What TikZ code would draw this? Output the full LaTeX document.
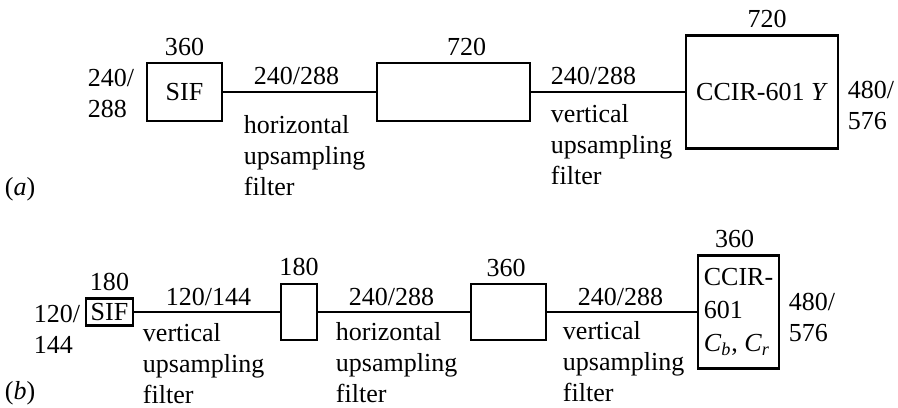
\documentclass[tikz,border=0pt]{standalone}
\usepackage{fontspec}
\setmainfont{Liberation Serif}
\usepackage{tikz}
\usetikzlibrary{positioning}
\tikzset{blk/.style={draw, line width=1.4pt, inner sep=0pt}}
\tikzset{lbl/.style={inner sep=0pt}}

\begin{document}
\begin{tikzpicture}[font=\fontsize{14.8}{17.9}\selectfont, line width=1.1pt]
    \path[use as bounding box] (0, 0) rectangle (17.96, 8.14);

    % (a) luminance: SIF -> CCIR-601 Y
    \node[blk, minimum width=1.50cm, minimum height=1.16cm] at (3.69, 6.30) (SIFa) {SIF};
    \node[blk, minimum width=3.06cm, minimum height=1.16cm] at (9.07, 6.30) (Ha) {};
    \node[blk, minimum width=3.04cm, minimum height=2.26cm] at (15.24, 6.30) (Ya) {CCIR-601 \textit{Y}};

    \node[lbl, above=0.11cm of SIFa] (wSIFa) {360};
    \node[lbl, above=0.11cm of Ha, xshift=0.26cm] (wHa) {720};
    \node[lbl, above=0.12cm of Ya, xshift=0.1cm] (wYa) {720};

    \draw (SIFa) -- (Ha);
    \draw (Ha) -- (Ya);

    \node[lbl, anchor=north west, align=left] at (1.74, 6.78) (inA) {240/\\288};
    \node[lbl, anchor=north west, align=left] at (16.94, 6.54) (outA) {480/\\576};
    \node[lbl, anchor=base west] at (5.06, 6.44) (rA1) {240/288};
    \node[lbl, anchor=north west, align=left] at (4.86, 5.86) (fA1) {horizontal\\upsampling\\filter};
    \node[lbl, anchor=base west] at (11.00, 6.44) (rA2) {240/288};
    \node[lbl, anchor=north west, align=left] at (11.00, 6.08) (fA2) {vertical\\upsampling\\filter};
    \node[lbl, anchor=base west] at (0.08, 4.22) (tagA) {(\textit{a})};

    % (b) chrominance: SIF -> CCIR-601 Cb, Cr
    \node[blk, minimum width=0.94cm, minimum height=0.54cm] at (2.19, 1.90) (SIFb) {SIF};
    \node[blk, minimum width=0.72cm, minimum height=1.12cm] at (5.98, 1.90) (Vb) {};
    \node[blk, minimum width=1.50cm, minimum height=1.12cm] at (10.17, 1.90) (Hb) {};
    \node[blk, minimum width=1.62cm, minimum height=2.26cm, align=left] at (14.77, 1.90) (Cb)
        {CCIR-\\[1pt]601\\[1pt]\textit{C}\textsubscript{\textit{b}}, \textit{C}\textsubscript{\textit{r}}};

    \node[lbl, above=0.12cm of SIFb] (wSIFb) {180};
    \node[lbl, above=0.12cm of Vb] (wVb) {180};
    \node[lbl, above=0.10cm of Hb, xshift=-0.05cm] (wHb) {360};
    \node[lbl, above=0.12cm of Cb, xshift=-0.08cm] (wCb) {360};

    \draw (SIFb) -- (Vb);
    \draw (Vb) -- (Hb);
    \draw (Hb) -- (Cb);

    \node[lbl, anchor=north west, align=left] at (0.66, 2.06) (inB) {120/\\144};
    \node[lbl, anchor=north west, align=left] at (15.76, 2.30) (outB) {480/\\576};
    \node[lbl, anchor=base west] at (3.30, 2.02) (rB1) {120/144};
    \node[lbl, anchor=north west, align=left] at (2.84, 1.70) (fB1) {vertical\\upsampling\\filter};
    \node[lbl, anchor=base west] at (6.96, 2.02) (rB2) {240/288};
    \node[lbl, anchor=north west, align=left] at (6.70, 1.72) (fB2) {horizontal\\upsampling\\filter};
    \node[lbl, anchor=base west] at (11.54, 2.02) (rB3) {240/288};
    \node[lbl, anchor=north west, align=left] at (11.24, 1.74) (fB3) {vertical\\upsampling\\filter};
    \node[lbl, anchor=base west] at (0.08, 0.16) (tagB) {(\textit{b})};
\end{tikzpicture}
\end{document}
